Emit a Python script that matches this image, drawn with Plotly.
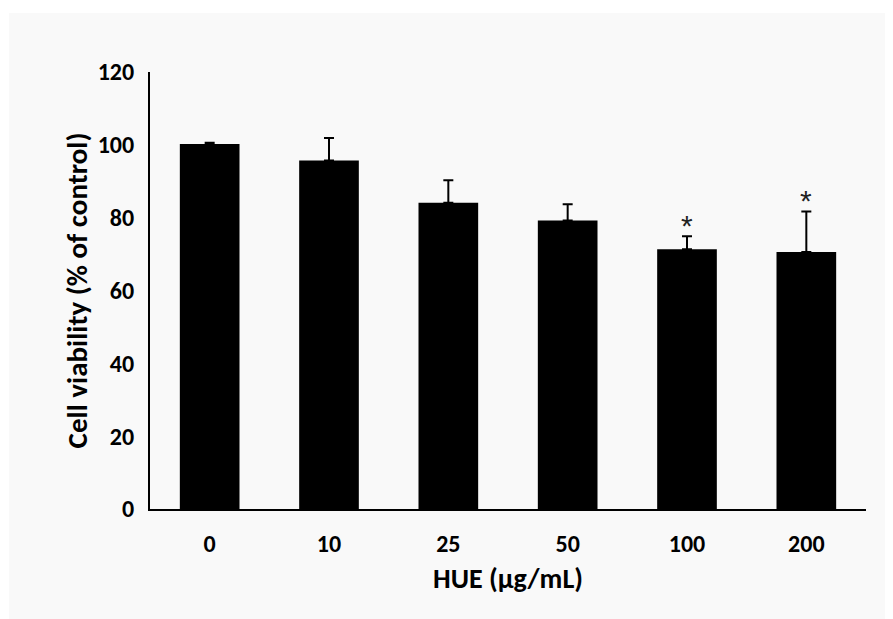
import plotly.graph_objects as go

categories = ["0", "10", "25", "50", "100", "200"]
viability = [100.2, 95.7, 84.1, 79.2, 71.3, 70.6]
sd_upper = [0.4, 6.2, 6.2, 4.5, 3.6, 11.1]
significant = ["", "", "", "", "*", "*"]

FONT = "Carlito, 'Liberation Sans Narrow', Calibri, 'Open Sans', sans-serif"

fig = go.Figure()
fig.add_trace(go.Bar(
    x=categories, y=viability,
    marker=dict(color="black", line=dict(width=0)),
    error_y=dict(type="data", symmetric=False, array=sd_upper,
                 arrayminus=[0]*len(sd_upper), color="black",
                 thickness=2, width=5),
    width=0.5,
))

for i, (v, e, s) in enumerate(zip(viability, sd_upper, significant)):
    if s:
        fig.add_annotation(x=i, y=v + e, text=s, showarrow=False,
                           yanchor="bottom", yshift=-8,
                           font=dict(family="Arial", size=30, color="#222"))

fig.add_shape(type="rect", xref="paper", yref="paper",
              x0=-0.197, x1=1.08, y0=-0.35, y1=1.135,
              fillcolor="#f9f9f9", line=dict(width=0), layer="below")

fig.update_layout(
    width=893, height=619,
    margin=dict(l=142, r=35, t=64, b=118),
    paper_bgcolor="white", plot_bgcolor="rgba(0,0,0,0)",
    showlegend=False,
    font=dict(family=FONT, color="black"),
    xaxis=dict(
        type="category", range=[-0.5, 5.5],
        showline=True, linecolor="black", linewidth=2,
        ticks="", tickfont=dict(family=FONT, size=24, weight="bold"),
        title=dict(text="<b>HUE (µg/mL)</b>", font=dict(family=FONT, size=28), standoff=12),
        ticklabelstandoff=12,
    ),
    yaxis=dict(
        range=[0, 120], tickvals=[0, 20, 40, 60, 80, 100, 120],
        showline=True, linecolor="black", linewidth=2,
        showgrid=False, zeroline=False, ticks="",
        tickfont=dict(family=FONT, size=24, weight="bold"),
        ticklabelstandoff=9,
        title=dict(text="<b>Cell viability (% of control)</b>", font=dict(family=FONT, size=29), standoff=2),
    ),
)

fig.write_html("out.html")
